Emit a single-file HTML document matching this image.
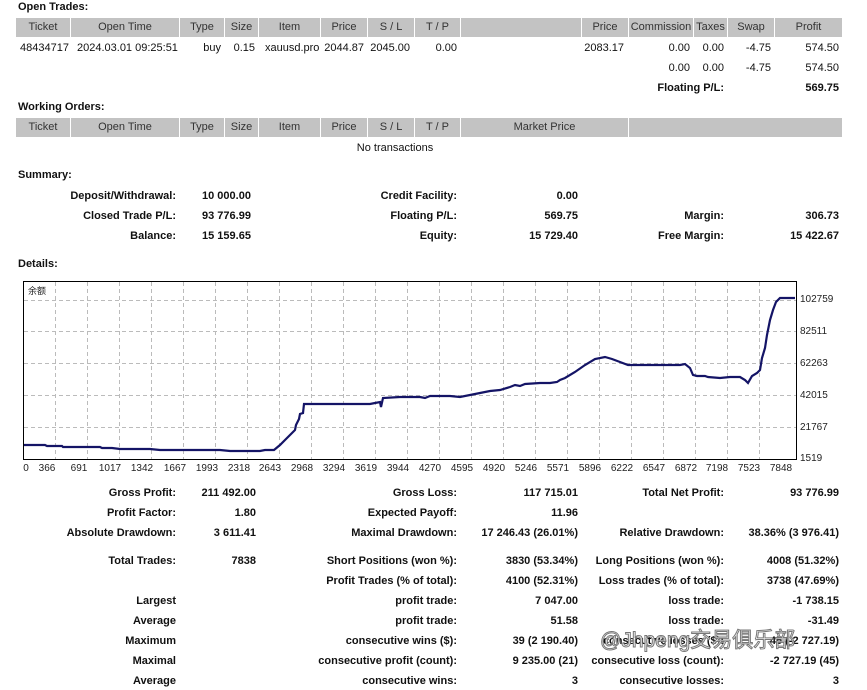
<!DOCTYPE html>
<html><head><meta charset="utf-8"><style>
body{margin:0;width:867px;height:690px;background:#fff;position:relative;overflow:hidden;font-family:"Liberation Sans","Noto Sans CJK SC",sans-serif;font-size:11px;color:#111;}
.a{position:absolute;white-space:nowrap;line-height:13px;}
.b{font-weight:bold;}
.r{transform:translateX(-100%);}
.c{transform:translateX(-50%);}
.h{position:absolute;background:#c3c3c3;height:19px;line-height:19px;text-align:center;color:#333;}
</style></head><body>
<div class="a b" style="left:18px;top:1px">Open Trades:</div>
<div class="h" style="left:16px;top:18px;width:54px">Ticket</div>
<div class="h" style="left:71px;top:18px;width:108px">Open Time</div>
<div class="h" style="left:180px;top:18px;width:44px">Type</div>
<div class="h" style="left:225px;top:18px;width:33px">Size</div>
<div class="h" style="left:259px;top:18px;width:61px">Item</div>
<div class="h" style="left:321px;top:18px;width:46px">Price</div>
<div class="h" style="left:368px;top:18px;width:46px">S / L</div>
<div class="h" style="left:415px;top:18px;width:45px">T / P</div>
<div class="h" style="left:461px;top:18px;width:120px"></div>
<div class="h" style="left:582px;top:18px;width:46px">Price</div>
<div class="h" style="left:629px;top:18px;width:64px">Commission</div>
<div class="h" style="left:694px;top:18px;width:33px">Taxes</div>
<div class="h" style="left:728px;top:18px;width:46px">Swap</div>
<div class="h" style="left:775px;top:18px;width:67px">Profit</div>
<div class="a" style="left:20px;top:42px">48434717</div>
<div class="a" style="left:77px;top:42px">2024.03.01 09:25:51</div>
<div class="a r" style="left:221px;top:42px">buy</div>
<div class="a r" style="left:255px;top:42px">0.15</div>
<div class="a" style="left:265px;top:42px">xauusd.pro</div>
<div class="a r" style="left:364px;top:42px">2044.87</div>
<div class="a r" style="left:410px;top:42px">2045.00</div>
<div class="a r" style="left:457px;top:42px">0.00</div>
<div class="a r" style="left:624px;top:42px">2083.17</div>
<div class="a r" style="left:690px;top:42px">0.00</div>
<div class="a r" style="left:724px;top:42px">0.00</div>
<div class="a r" style="left:771px;top:42px">-4.75</div>
<div class="a r" style="left:839px;top:42px">574.50</div>
<div class="a r" style="left:690px;top:62px">0.00</div>
<div class="a r" style="left:724px;top:62px">0.00</div>
<div class="a r" style="left:771px;top:62px">-4.75</div>
<div class="a r" style="left:839px;top:62px">574.50</div>
<div class="a b r" style="left:724px;top:82px">Floating P/L:</div>
<div class="a b r" style="left:839px;top:82px">569.75</div>

<div class="a b" style="left:18px;top:101px">Working Orders:</div>
<div class="h" style="left:16px;top:118px;width:54px">Ticket</div>
<div class="h" style="left:71px;top:118px;width:108px">Open Time</div>
<div class="h" style="left:180px;top:118px;width:44px">Type</div>
<div class="h" style="left:225px;top:118px;width:33px">Size</div>
<div class="h" style="left:259px;top:118px;width:61px">Item</div>
<div class="h" style="left:321px;top:118px;width:46px">Price</div>
<div class="h" style="left:368px;top:118px;width:46px">S / L</div>
<div class="h" style="left:415px;top:118px;width:45px">T / P</div>
<div class="h" style="left:461px;top:118px;width:167px">Market Price</div>
<div class="h" style="left:629px;top:118px;width:213px"></div>
<div class="a c" style="left:395px;top:142px">No transactions</div>

<div class="a b" style="left:18px;top:169px">Summary:</div>
<div class="a b r" style="left:176px;top:190px">Deposit/Withdrawal:</div>
<div class="a b" style="left:202px;top:190px">10 000.00</div>
<div class="a b r" style="left:457px;top:190px">Credit Facility:</div>
<div class="a b r" style="left:578px;top:190px">0.00</div>
<div class="a b r" style="left:176px;top:210px">Closed Trade P/L:</div>
<div class="a b" style="left:202px;top:210px">93 776.99</div>
<div class="a b r" style="left:457px;top:210px">Floating P/L:</div>
<div class="a b r" style="left:578px;top:210px">569.75</div>
<div class="a b r" style="left:724px;top:210px">Margin:</div>
<div class="a b r" style="left:839px;top:210px">306.73</div>
<div class="a b r" style="left:176px;top:230px">Balance:</div>
<div class="a b" style="left:202px;top:230px">15 159.65</div>
<div class="a b r" style="left:457px;top:230px">Equity:</div>
<div class="a b r" style="left:578px;top:230px">15 729.40</div>
<div class="a b r" style="left:724px;top:230px">Free Margin:</div>
<div class="a b r" style="left:839px;top:230px">15 422.67</div>
<div class="a b" style="left:18px;top:258px">Details:</div>

<svg style="position:absolute;left:0;top:0" width="867" height="690">
<rect x="23.5" y="281.5" width="773" height="178" fill="#fff" stroke="#000"/>
<g stroke="#bbb" stroke-dasharray="4,3" stroke-width="1">
<line x1="24" x2="796" y1="300.5" y2="300.5"/><line x1="24" x2="796" y1="331.5" y2="331.5"/>
<line x1="24" x2="796" y1="363.5" y2="363.5"/><line x1="24" x2="796" y1="395.5" y2="395.5"/>
<line x1="24" x2="796" y1="427.5" y2="427.5"/>
<g id="v">
<line x1="55.5" x2="55.5" y1="282" y2="459"/><line x1="87.5" x2="87.5" y1="282" y2="459"/>
<line x1="119.5" x2="119.5" y1="282" y2="459"/><line x1="151.5" x2="151.5" y1="282" y2="459"/>
<line x1="183.5" x2="183.5" y1="282" y2="459"/><line x1="215.5" x2="215.5" y1="282" y2="459"/>
<line x1="247.5" x2="247.5" y1="282" y2="459"/><line x1="279.5" x2="279.5" y1="282" y2="459"/>
<line x1="311.5" x2="311.5" y1="282" y2="459"/><line x1="343.5" x2="343.5" y1="282" y2="459"/>
<line x1="375.5" x2="375.5" y1="282" y2="459"/><line x1="407.5" x2="407.5" y1="282" y2="459"/>
<line x1="439.5" x2="439.5" y1="282" y2="459"/><line x1="471.5" x2="471.5" y1="282" y2="459"/>
<line x1="503.5" x2="503.5" y1="282" y2="459"/><line x1="535.5" x2="535.5" y1="282" y2="459"/>
<line x1="567.5" x2="567.5" y1="282" y2="459"/><line x1="599.5" x2="599.5" y1="282" y2="459"/>
<line x1="631.5" x2="631.5" y1="282" y2="459"/><line x1="663.5" x2="663.5" y1="282" y2="459"/>
<line x1="695.5" x2="695.5" y1="282" y2="459"/><line x1="727.5" x2="727.5" y1="282" y2="459"/>
<line x1="759.5" x2="759.5" y1="282" y2="459"/>
</g></g>
<polyline fill="none" stroke="#141466" stroke-width="2.2" points="24,445 45,445 47,446 62,446 63,447 100,447 102,448 112,448 120,449 150,449 160,450 200,450 220,450 230,451 260,451 265,450 274,450 280,445 285,440 290,435 295,430 296,425 299,419 300,414 303,413 304,404 320,404 340,404 355,404 370,404 375,403 380,402 381,407 383,398 400,397 420,397 425,398 430,396 450,396 460,397 470,395 480,393 490,391 500,390 510,387 515,385 520,386 525,384 540,383 550,383 557,382 560,380 565,378 575,372 585,365 595,359 605,357 612,359 620,362 628,365 640,365 660,365 680,365 685,364 690,368 693,375 697,376 705,376 708,377 720,378 730,377 740,377 745,380 748,383 752,376 757,373 760,370 762,358 765,348 767,335 770,320 773,310 776,302 780,298 795,298"/>
<text x="28" y="294" font-size="9" font-family="Noto Sans CJK SC, sans-serif" fill="#222">余额</text>
<g font-size="10" fill="#222" font-family="Liberation Sans, sans-serif">
<text x="800" y="302">102759</text><text x="800" y="334">82511</text><text x="800" y="366">62263</text>
<text x="800" y="398">42015</text><text x="800" y="430">21767</text><text x="800" y="461">1519</text>
</g>
<g font-size="10" fill="#222" font-family="Liberation Sans, sans-serif" text-anchor="middle">
<text x="26" y="471">0</text><text x="47" y="471">366</text><text x="79" y="471">691</text><text x="110" y="471">1017</text>
<text x="142" y="471">1342</text><text x="175" y="471">1667</text><text x="207" y="471">1993</text><text x="239" y="471">2318</text>
<text x="270" y="471">2643</text><text x="302" y="471">2968</text><text x="334" y="471">3294</text><text x="366" y="471">3619</text>
<text x="398" y="471">3944</text><text x="430" y="471">4270</text><text x="462" y="471">4595</text><text x="494" y="471">4920</text>
<text x="526" y="471">5246</text><text x="558" y="471">5571</text><text x="590" y="471">5896</text><text x="622" y="471">6222</text>
<text x="654" y="471">6547</text><text x="686" y="471">6872</text><text x="717" y="471">7198</text><text x="749" y="471">7523</text>
<text x="781" y="471">7848</text>
</g>
</svg>

<div class="a b r" style="left:176px;top:487px">Gross Profit:</div><div class="a b r" style="left:256px;top:487px">211 492.00</div>
<div class="a b r" style="left:457px;top:487px">Gross Loss:</div><div class="a b r" style="left:578px;top:487px">117 715.01</div>
<div class="a b r" style="left:724px;top:487px">Total Net Profit:</div><div class="a b r" style="left:839px;top:487px">93 776.99</div>
<div class="a b r" style="left:176px;top:507px">Profit Factor:</div><div class="a b r" style="left:256px;top:507px">1.80</div>
<div class="a b r" style="left:457px;top:507px">Expected Payoff:</div><div class="a b r" style="left:578px;top:507px">11.96</div>
<div class="a b r" style="left:176px;top:527px">Absolute Drawdown:</div><div class="a b r" style="left:256px;top:527px">3 611.41</div>
<div class="a b r" style="left:457px;top:527px">Maximal Drawdown:</div><div class="a b r" style="left:578px;top:527px">17 246.43 (26.01%)</div>
<div class="a b r" style="left:724px;top:527px">Relative Drawdown:</div><div class="a b r" style="left:839px;top:527px">38.36% (3 976.41)</div>
<div class="a b r" style="left:176px;top:555px">Total Trades:</div><div class="a b r" style="left:256px;top:555px">7838</div>
<div class="a b r" style="left:457px;top:555px">Short Positions (won %):</div><div class="a b r" style="left:578px;top:555px">3830 (53.34%)</div>
<div class="a b r" style="left:724px;top:555px">Long Positions (won %):</div><div class="a b r" style="left:839px;top:555px">4008 (51.32%)</div>
<div class="a b r" style="left:457px;top:575px">Profit Trades (% of total):</div><div class="a b r" style="left:578px;top:575px">4100 (52.31%)</div>
<div class="a b r" style="left:724px;top:575px">Loss trades (% of total):</div><div class="a b r" style="left:839px;top:575px">3738 (47.69%)</div>
<div class="a b r" style="left:176px;top:595px">Largest</div>
<div class="a b r" style="left:457px;top:595px">profit trade:</div><div class="a b r" style="left:578px;top:595px">7 047.00</div>
<div class="a b r" style="left:724px;top:595px">loss trade:</div><div class="a b r" style="left:839px;top:595px">-1 738.15</div>
<div class="a b r" style="left:176px;top:615px">Average</div>
<div class="a b r" style="left:457px;top:615px">profit trade:</div><div class="a b r" style="left:578px;top:615px">51.58</div>
<div class="a b r" style="left:724px;top:615px">loss trade:</div><div class="a b r" style="left:839px;top:615px">-31.49</div>
<div class="a b r" style="left:176px;top:635px">Maximum</div>
<div class="a b r" style="left:457px;top:635px">consecutive wins ($):</div><div class="a b r" style="left:578px;top:635px">39 (2 190.40)</div>
<div class="a b r" style="left:724px;top:635px">consecutive losses ($):</div><div class="a b r" style="left:839px;top:635px">45 (-2 727.19)</div>
<div class="a b r" style="left:176px;top:655px">Maximal</div>
<div class="a b r" style="left:457px;top:655px">consecutive profit (count):</div><div class="a b r" style="left:578px;top:655px">9 235.00 (21)</div>
<div class="a b r" style="left:724px;top:655px">consecutive loss (count):</div><div class="a b r" style="left:839px;top:655px">-2 727.19 (45)</div>
<div class="a b r" style="left:176px;top:675px">Average</div>
<div class="a b r" style="left:457px;top:675px">consecutive wins:</div><div class="a b r" style="left:578px;top:675px">3</div>
<div class="a b r" style="left:724px;top:675px">consecutive losses:</div><div class="a b r" style="left:839px;top:675px">3</div>
<div class="a" style="left:600px;top:628px;font-size:21px;line-height:26px;color:rgba(255,255,255,0.85);-webkit-text-stroke:1px #777;font-family:'Liberation Sans','Noto Sans CJK SC',sans-serif">@Jhpeng交易俱乐部</div>
</body></html>
